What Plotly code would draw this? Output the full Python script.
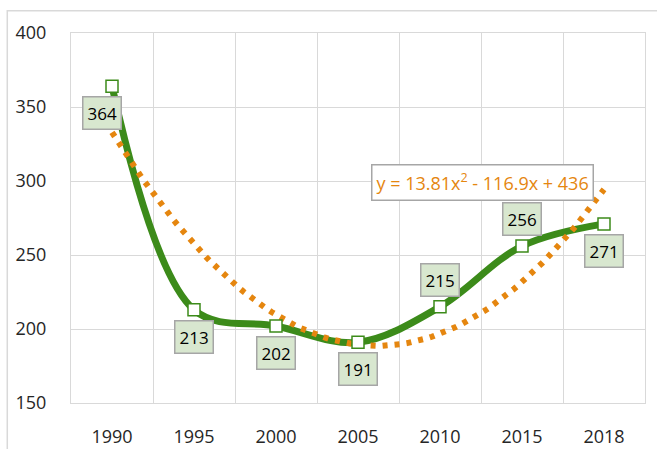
import numpy as np
import plotly.graph_objects as go

years = ["1990", "1995", "2000", "2005", "2010", "2015", "2018"]
values = [364, 213, 202, 191, 215, 256, 271]
label_above = [False, False, False, False, True, True, False]
label_dx = [-10, 0, 0, 0, 0, 0, 0]

GREEN = "#3c8b1a"
ORANGE = "#e5860f"
GRID = "#d9d9d9"
FONT = "Open Sans"

idx = list(range(len(years)))

# polynomial (order 2) trendline fitted to the data, Excel style x = 1..n
t = np.arange(1, len(values) + 1)
coef = np.polyfit(t, values, 2)
ts = np.linspace(1, len(values), 121)
trend = np.polyval(coef, ts)

fig = go.Figure()
fig.add_trace(go.Scatter(
    x=idx, y=values, mode="lines",
    line=dict(color=GREEN, width=7, shape="spline", smoothing=1.0),
    hoverinfo="skip", showlegend=False))
fig.add_trace(go.Scatter(
    x=ts - 1, y=trend, mode="lines",
    line=dict(color=ORANGE, width=6, dash="5px,7px"),
    hoverinfo="skip", showlegend=False))
fig.add_trace(go.Scatter(
    x=idx, y=values, mode="markers",
    marker=dict(symbol="square", size=12, color="white",
                line=dict(color=GREEN, width=1.5)),
    showlegend=False))

for i, v in enumerate(values):
    fig.add_annotation(
        x=i, y=v, xref="x", yref="y", text=str(v), showarrow=False,
        xshift=label_dx[i], yshift=27 if label_above[i] else -27,
        font=dict(family=FONT, size=17, color="black"),
        bgcolor="#d8e7cf", bordercolor="#a6a6a6", borderwidth=1.5, borderpad=4)

eq = "y = %.2fx<sup>2</sup> - %.1fx + %.0f" % (coef[0], -coef[1], coef[2])
fig.add_annotation(
    x=4.52, y=299, xref="x", yref="y", text=eq, showarrow=False,
    font=dict(family=FONT, size=18, color=ORANGE),
    bgcolor="white", bordercolor="#a6a6a6", borderwidth=1.5, borderpad=4)

# chart area frame
fig.add_shape(type="rect", xref="paper", yref="paper",
              x0=-0.111, x1=1.03, y0=-0.14, y1=1.06,
              line=dict(color=GRID, width=1.5), layer="below")

fig.update_layout(
    width=657, height=449,
    margin=dict(l=71, r=12, t=33, b=46),
    paper_bgcolor="white", plot_bgcolor="white",
    font=dict(family=FONT, size=16, color="#262626"),
)
fig.update_xaxes(
    range=[-0.5, len(years) - 0.5], tickmode="array", tickvals=idx, ticktext=years,
    showgrid=False, showline=True, mirror=True, linecolor=GRID, linewidth=1,
    ticks="", ticklabelstandoff=17, zeroline=False, automargin=False,
    tickfont=dict(family=FONT, size=18, color="#262626"),
    minor=dict(tickmode="array", tickvals=[i - 0.5 for i in range(len(years) + 1)],
               showgrid=True, gridcolor=GRID, gridwidth=1, ticks=""),
)
fig.update_yaxes(
    range=[150, 400], tickmode="array", tickvals=[150, 200, 250, 300, 350, 400],
    showgrid=True, gridcolor=GRID, gridwidth=1, showline=True, mirror=True,
    linecolor=GRID, linewidth=1, ticks="", ticklabelstandoff=20, zeroline=False,
    automargin=False,
    tickfont=dict(family=FONT, size=18, color="#262626"),
)

fig.write_html("out.html", config={"displayModeBar": False},
               post_script="document.body.style.margin='0';")
